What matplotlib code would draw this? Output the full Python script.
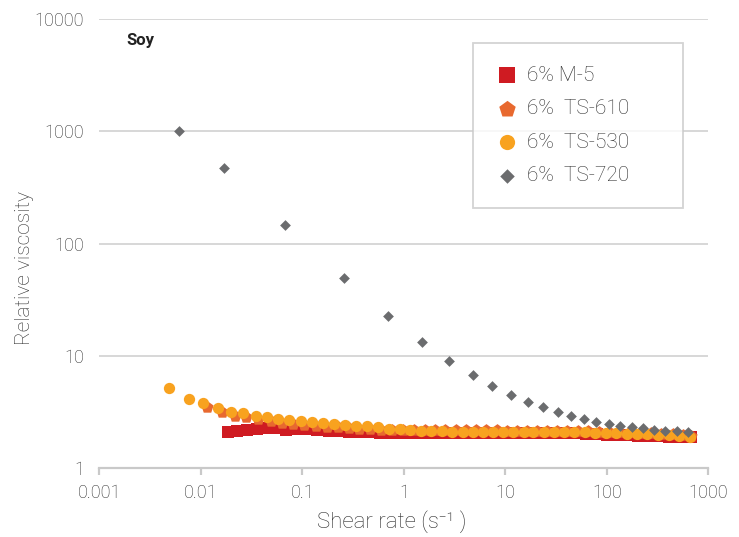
import numpy as np
import matplotlib
matplotlib.use('Agg')
import matplotlib.pyplot as plt

plt.rcParams['font.family'] = ['Roboto', 'DejaVu Sans']

# shear rate (1/s) and relative viscosity
m5_x = [0.0187, 0.0229, 0.0288, 0.0354, 0.0433, 0.0541, 0.0693, 0.0893, 0.109, 0.141,
        0.182, 0.226, 0.290, 0.365, 0.468, 0.583, 0.748, 0.944, 1.21, 1.52,
        1.91, 2.42, 3.08, 3.86, 4.84, 6.07, 7.74, 9.77, 12.2, 15.3,
        19.2, 24.0, 30.4, 38.1, 48.6, 62.4, 79.5, 101, 127, 159,
        201, 256, 324, 413, 518, 671]
m5_y = [2.10, 2.15, 2.19, 2.23, 2.28, 2.28, 2.20, 2.23, 2.23, 2.20,
        2.17, 2.17, 2.12, 2.12, 2.12, 2.08, 2.08, 2.08, 2.06, 2.06,
        2.06, 2.06, 2.06, 2.06, 2.06, 2.06, 2.06, 2.06, 2.06, 2.06,
        2.06, 2.06, 2.06, 2.06, 2.06, 2.03, 2.02, 1.99, 1.99, 1.99,
        1.94, 1.94, 1.94, 1.92, 1.89, 1.89]

ts610_x = [0.0114, 0.0161, 0.0217, 0.0281, 0.0364, 0.0489, 0.0627, 0.0815, 0.105, 0.136,
           0.174, 0.223, 0.286, 0.365, 0.468, 0.597, 0.767, 0.985, 1.25, 1.60,
           2.02, 2.57, 3.25, 4.10, 5.15, 6.51, 8.23, 10.3, 13.0, 16.4,
           20.4, 25.9, 32.6, 40.8, 51.7, 65.3, 83.3, 105, 133, 170,
           213, 271, 345, 446, 559, 680]
ts610_y = [3.54, 3.16, 2.94, 2.85, 2.75, 2.65, 2.55, 2.47, 2.46, 2.40,
           2.34, 2.32, 2.28, 2.26, 2.23, 2.21, 2.20, 2.20, 2.19, 2.19,
           2.18, 2.18, 2.18, 2.18, 2.18, 2.18, 2.18, 2.17, 2.17, 2.17,
           2.17, 2.17, 2.17, 2.17, 2.16, 2.15, 2.13, 2.11, 2.10, 2.09,
           2.08, 2.06, 2.04, 2.01, 1.98, 1.96]

ts530_x = [0.00490, 0.00771, 0.0106, 0.0148, 0.0200, 0.0258, 0.0350, 0.0452, 0.0577, 0.0740,
           0.0964, 0.125, 0.159, 0.204, 0.262, 0.338, 0.434, 0.553, 0.710, 0.912,
           1.16, 1.48, 1.87, 2.38, 3.01, 3.80, 4.77, 6.03, 7.62, 9.55,
           12.0, 15.2, 18.9, 24.0, 30.2, 37.8, 47.9, 60.5, 77.1, 97.5,
           123, 157, 197, 251, 319, 413, 518, 661]
ts530_y = [5.23, 4.15, 3.82, 3.43, 3.21, 3.10, 2.92, 2.85, 2.78, 2.70,
           2.66, 2.59, 2.55, 2.47, 2.44, 2.39, 2.37, 2.34, 2.26, 2.23,
           2.21, 2.17, 2.15, 2.15, 2.12, 2.12, 2.12, 2.12, 2.11, 2.11,
           2.11, 2.11, 2.11, 2.11, 2.11, 2.11, 2.11, 2.10, 2.08, 2.05,
           2.05, 2.04, 2.03, 2.01, 1.99, 1.97, 1.94, 1.92]

ts720_x = [0.00610, 0.0171, 0.0681, 0.259, 0.703, 1.52, 2.81, 4.77, 7.45, 11.3,
           16.6, 23.4, 32.8, 44.4, 59.6, 78.8, 104, 136, 177, 228,
           292, 377, 489, 627]
ts720_y = [1000, 469, 145, 49.1, 22.8, 13.4, 9.08, 6.78, 5.41, 4.53,
           3.90, 3.50, 3.16, 2.93, 2.74, 2.59, 2.49, 2.40, 2.34, 2.28,
           2.21, 2.17, 2.14, 2.10]

fig = plt.figure(figsize=(7.39, 5.37), dpi=100)
ax = fig.add_axes([0.1344, 0.1276, 0.8241, 0.8379])

ax.scatter(m5_x, m5_y, marker='s', s=78, color='#cf1b22', linewidths=0, label='6% M-5', zorder=3)
ax.scatter(ts610_x, ts610_y, marker='p', s=85, color='#e8692f', linewidths=0, label='6%  TS-610', zorder=4)
ax.scatter(ts530_x, ts530_y, marker='o', s=66, color='#f8a21f', linewidths=0, label='6%  TS-530', zorder=5)
ax.scatter(ts720_x, ts720_y, marker='D', s=30, color='#6b6c6e', linewidths=0, label='6%  TS-720', zorder=6)

ax.set_xscale('log')
ax.set_yscale('log')
ax.set_xlim(0.001, 1000)
ax.set_ylim(1, 10000)

xt = [0.001, 0.01, 0.1, 1, 10, 100, 1000]
yt = [1, 10, 100, 1000, 10000]
ax.set_xticks(xt)
ax.set_xticklabels(['0.001', '0.01', '0.1', '1', '10', '100', '1000'])
ax.set_yticks(yt)
ax.set_yticklabels(['1', '10', '100', '1000', '10000'])
ax.minorticks_off()

for s in ['top', 'right', 'left']:
    ax.spines[s].set_visible(False)
ax.spines['bottom'].set_color('#c9c9c9')
ax.spines['bottom'].set_linewidth(1.6)
ax.grid(axis='y', color='#d4d4d4', linewidth=1.3, zorder=0)
ax.set_axisbelow(True)

txt = '#2e2e2e'
ax.tick_params(axis='x', direction='out', length=5, width=1.6, color='#c9c9c9',
               labelsize=13, labelcolor=txt, pad=6)
ax.tick_params(axis='y', length=0, labelsize=13, labelcolor=txt, pad=11)
for lab in ax.get_xticklabels() + ax.get_yticklabels():
    lab.set_fontweight('light')

ax.set_xlabel('Shear rate (s\u207b\u00b9 )', fontsize=16, color=txt, fontweight='light')
ax.set_ylabel('Relative viscosity', fontsize=15, color=txt, fontweight='light')
ax.xaxis.set_label_coords(0.48, -0.092)
ax.yaxis.set_label_coords(-0.107, 0.446)

ax.text(0.045, 0.952, 'Soy', transform=ax.transAxes, fontsize=12, fontweight='bold',
        color='#222222', ha='left', va='center')

leg = ax.legend(loc='upper left', bbox_to_anchor=(0.614, 0.581, 0.344, 0.365), mode='expand',
                fontsize=15, frameon=True, fancybox=False, borderpad=1.1, labelspacing=0.7,
                handlelength=1.0, handletextpad=0.5, borderaxespad=0, markerscale=1.35)
leg.get_frame().set_edgecolor('#c9c9c9')
leg.get_frame().set_linewidth(1.3)
for t in leg.get_texts():
    t.set_color(txt)
    t.set_fontweight('light')

fig.savefig('out.png', dpi=100)
